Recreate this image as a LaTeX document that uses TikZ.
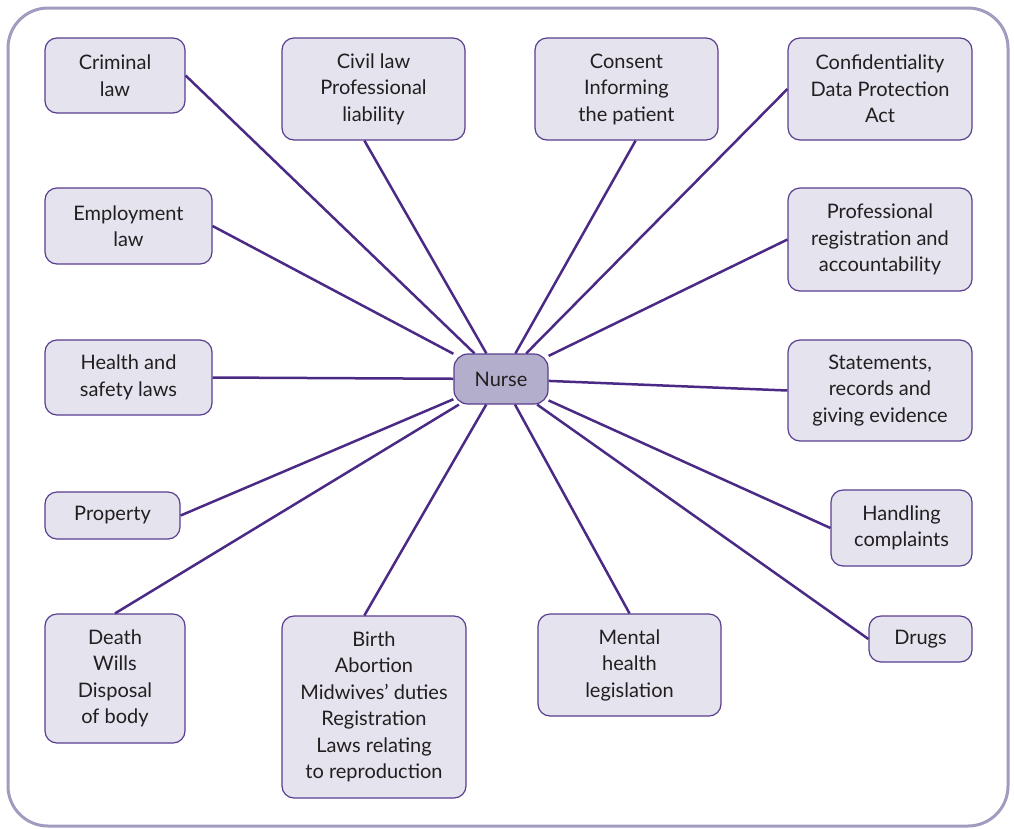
\documentclass[tikz,border=0pt]{standalone}
\usepackage{fontspec}
\setmainfont{Lato}
\usepackage{tikz}
\usetikzlibrary{shapes,arrows,backgrounds}

\definecolor{linepurple}{HTML}{4B2A85}
\definecolor{boxfill}{HTML}{E4E3EE}
\definecolor{boxedge}{HTML}{5A3D8F}
\definecolor{nursefill}{HTML}{B3AECB}
\definecolor{framecol}{HTML}{A09CC0}
\definecolor{textgray}{HTML}{231F20}

\begin{document}
\begin{tikzpicture}[x=1pt,y=-1pt,
    topic/.style={draw=boxedge, line width=1.2pt, fill=boxfill, rounded corners=12pt, align=center, text=textgray, inner sep=2pt,
      font=\fontsize{20}{26.5}\selectfont},
    link/.style={draw=linepurple, line width=2.5pt}]
\useasboundingbox (0,0) rectangle (1014,828);
\draw[framecol, line width=3pt, rounded corners=40pt] (8,8) rectangle (1008,826);

    \node (Nurse) [topic, fill=nursefill, rounded corners=14pt, minimum width=94pt, minimum height=50pt] at (501,379) {Nurse};

    \node (Criminal) [topic, minimum width=140pt, minimum height=75pt] at (115,75.5) {Criminal\\law};
    \node (Civil) [topic, minimum width=183pt, minimum height=102pt] at (373.5,89) {Civil law\\Professional\\liability};
    \node (Consent) [topic, minimum width=183pt, minimum height=102pt] at (626.5,89) {Consent\\Informing\\the patient};
    \node (Confidentiality) [topic, minimum width=184pt, minimum height=102pt] at (880,89) {Confidentiality\\Data Protection\\Act};
    \node (Employment) [topic, minimum width=167pt, minimum height=76pt] at (128.5,226) {Employment\\law};
    \node (Registration) [topic, minimum width=184pt, minimum height=103pt] at (880,239.5) {Professional\\registration and\\accountability};
    \node (Health) [topic, minimum width=167pt, minimum height=75pt] at (128.5,377.5) {Health and\\safety laws};
    \node (Statements) [topic, minimum width=184pt, minimum height=101pt] at (880,390.5) {Statements,\\records and\\giving evidence};
    \node (Property) [topic, minimum width=135pt, minimum height=47pt] at (112.5,515.5) {Property};
    \node (Complaints) [topic, minimum width=141pt, minimum height=76pt] at (901.5,528) {Handling\\complaints};
    \node (Death) [topic, minimum width=140pt, minimum height=129pt] at (115,678.5) {Death\\Wills\\Disposal\\of body};
    \node (Birth) [topic, minimum width=184pt, minimum height=182pt] at (374,707) {Birth\\Abortion\\Midwives’ duties\\Registration\\Laws relating\\to reproduction};
    \node (Mental) [topic, minimum width=183pt, minimum height=102pt] at (629.5,665) {Mental\\health\\legislation};
    \node (Drugs) [topic, minimum width=103pt, minimum height=46pt] at (920.5,639) {Drugs};

    \draw[link] (Criminal.east) -- (Nurse);
    \draw[link] (Civil.260) -- (Nurse);
    \draw[link] (Consent.280) -- (Nurse);
    \draw[link] (Confidentiality.west) -- (Nurse);
    \draw[link] (Employment.east) -- (Nurse);
    \draw[link] (Registration.west) -- (Nurse);
    \draw[link] (Health.east) -- (Nurse);
    \draw[link] (Statements.west) -- (Nurse);
    \draw[link] (Property.east) -- (Nurse);
    \draw[link] (Complaints.west) -- (Nurse);
    \draw[link] (Death.north) -- (Nurse);
    \draw[link] (Birth.96) -- (Nurse);
    \draw[link] (Mental.north) -- (Nurse);
    \draw[link] (Drugs.west) -- (Nurse);

\end{tikzpicture}
\end{document}
